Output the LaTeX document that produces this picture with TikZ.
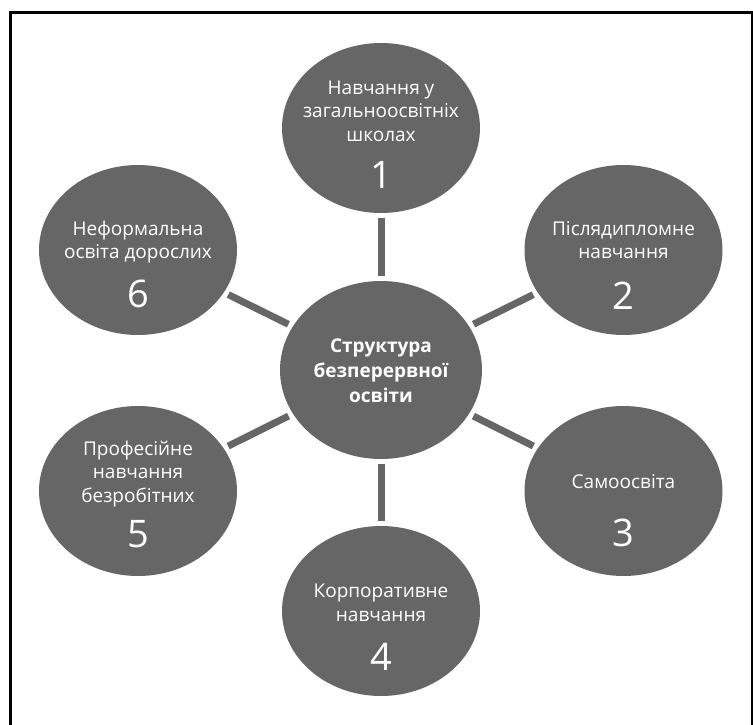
\documentclass[tikz,border=0pt]{standalone}
\usepackage{fontspec}
\setmainfont{Open Sans}
\usetikzlibrary{shapes.geometric}
\definecolor{discgray}{HTML}{666666}
\begin{document}
\begin{tikzpicture}[x=1pt,y=-1pt,
  disc/.style={ellipse, fill=discgray, draw=none, inner sep=0pt, outer sep=0pt,
               minimum width=198pt, minimum height=170pt},
  hub/.style={disc, minimum width=202pt, minimum height=178pt},
  lbl/.style={text=white, align=center, inner sep=0pt,
              font=\fontsize{19}{23.5}\selectfont},
  hublbl/.style={text=white, align=center, inner sep=0pt,
              font=\fontsize{19}{25}\selectfont\bfseries},
  num/.style={text=white, inner sep=0pt, font=\fontsize{38}{40}\selectfont},
  conn/.style={draw=discgray, line width=7pt, shorten <=5pt, shorten >=5pt},
  frame/.style={draw=black, line width=3pt}]
\useasboundingbox (0,0) rectangle (753,725);
\fill[white] (0,0) rectangle (753,725);
\draw[frame] (10,727) -- (10,12.5) -- (752.5,12.5) -- (752.5,727);

% circles
\node[hub]  (c)  at (381,370) {};
\node[disc] (n1) at (381,128) {};
\node[disc] (n2) at (623.5,250) {};
\node[disc] (n3) at (623.5,491) {};
\node[disc] (n4) at (381,611) {};
\node[disc] (n5) at (138,491) {};
\node[disc] (n6) at (138,250) {};

% connectors
\foreach \n in {n1,n2,n3,n4,n5,n6}
  \draw[conn] (c) -- (\n);

% labels
\node[hublbl] (tc) at (381,371) {Структура\\безперервної\\освіти};
\node[lbl] (t1) at (381,111) {Навчання у\\загальноосвітніх\\школах};
\node[num] (d1) at (381,175) {1};
\node[lbl] (t2) at (623.5,240) {Післядипломне\\навчання};
\node[num] (d2) at (623.5,296) {2};
\node[lbl] (t3) at (623.5,482) {Самоосвіта};
\node[num] (d3) at (623.5,533) {3};
\node[lbl] (t4) at (381,603) {Корпоративне\\навчання};
\node[num] (d4) at (381,657) {4};
\node[lbl] (t5) at (138,474) {Професійне\\навчання\\безробітних};
\node[num] (d5) at (138,534) {5};
\node[lbl] (t6) at (138,242) {Неформальна\\освіта дорослих};
\node[num] (d6) at (138,294) {6};
\end{tikzpicture}
\end{document}
